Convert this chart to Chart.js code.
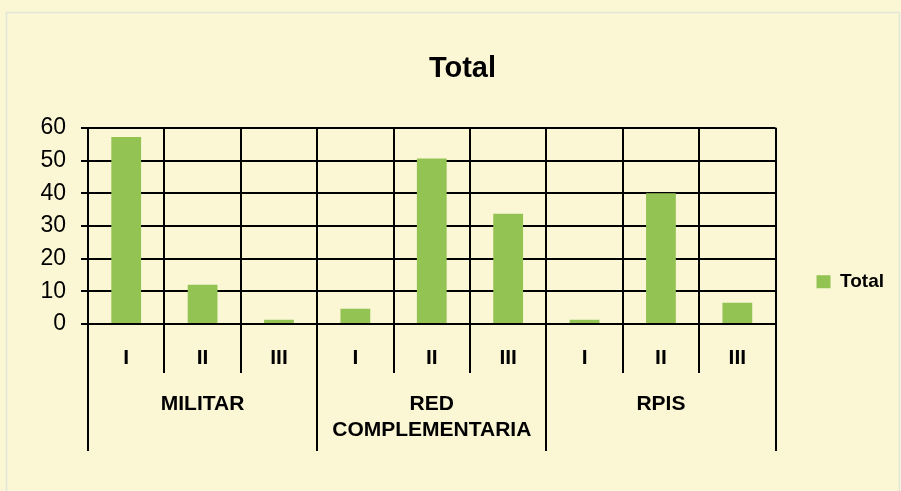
<!DOCTYPE html>
<html>
<head>
<meta charset="utf-8">
<script src="https://cdn.jsdelivr.net/npm/chart.js@4/dist/chart.umd.min.js"></script>
<style>
  html, body { margin: 0; padding: 0; background: #FBF7D4; }
  #wrap { width: 901px; height: 491px; position: relative; }
</style>
</head>
<body>
<div id="wrap"><canvas id="chart"></canvas></div>
<script>
const categories = ['I', 'II', 'III', 'I', 'II', 'III', 'I', 'II', 'III'];
const groups = ['MILITAR', ['RED', 'COMPLEMENTARIA'], 'RPIS'];
const totals = [57.2, 12, 1.3, 4.7, 50.6, 33.7, 1.3, 40, 6.5];

var barcolor = "rgb(147, 195, 83)"
var linecolor = "#000000"

const paper = {
    id: 'paper',
    beforeDraw(chart) {
        const ctx = chart.ctx;
        ctx.save();
        ctx.fillStyle = '#FBF7D4';
        ctx.fillRect(0, 0, chart.width, chart.height);
        ctx.strokeStyle = '#E2E6DA';
        ctx.lineWidth = 1.5;
        ctx.strokeRect(6.5, 12.5, chart.width - 8, chart.height);
        ctx.restore();
    }
};

const data = {
    labels: categories,
    datasets: [{
        label: 'Total',
        data: totals,
        backgroundColor: barcolor,
        borderWidth: 0,
        barPercentage: 0.39,
        categoryPercentage: 1,
    }]
};

const options = {
    animation: false,
    responsive: true,
    maintainAspectRatio: false,
    layout: {
        padding: { left: 31, right: 7, top: 0, bottom: 48 }
    },
    scales: {
        x: {
            grid: { color: linecolor, lineWidth: 2, tickLength: 49, offset: true },
            border: { color: linecolor, width: 2 },
            ticks: {
                color: '#000',
                font: { family: 'Liberation Sans', size: 21, weight: 'bold' },
                padding: -27,
                autoSkip: false,
                maxRotation: 0,
            },
            afterFit: (s) => { s.height = 49; }
        },
        x2: {
            type: 'category',
            position: 'bottom',
            labels: groups,
            offset: true,
            grid: { color: linecolor, lineWidth: 2, tickLength: 78, offset: true, drawOnChartArea: false },
            border: { display: false },
            ticks: {
                color: '#000',
                font: { family: 'Liberation Sans', size: 21, weight: 'bold' },
                padding: -59,
                autoSkip: false,
                maxRotation: 0,
            },
            afterFit: (s) => { s.height = 70; }
        },
        y: {
            min: 0,
            max: 60,
            ticks: {
                stepSize: 10,
                color: '#000',
                padding: 15,
                font: { family: 'Liberation Sans', size: 23 },
            },
            grid: { color: linecolor, lineWidth: 2, tickLength: 7 },
            border: { color: linecolor, width: 2 },
            afterFit: (s) => { s.width = 57; }
        }
    },
    plugins: {
        title: {
            display: true,
            text: 'Total',
            color: '#000',
            font: { family: 'Liberation Sans', size: 29, weight: 'bold' },
            padding: { top: 52, bottom: 41 },
        },
        legend: {
            position: 'right',
            title: { display: true, text: '', padding: { top: 0, bottom: 106 } },
            labels: {
                color: '#000',
                boxWidth: 14,
                boxHeight: 13,
                padding: 41,
                font: { family: 'Liberation Sans', size: 19, weight: 'bold' },
            }
        },
        tooltip: { enabled: false }
    },
};

const config = {
    type: 'bar',
    data: data,
    options: options,
    plugins: [paper],
};

const chart = new Chart(
document.getElementById('chart'),
config
);
</script>
</body>
</html>
